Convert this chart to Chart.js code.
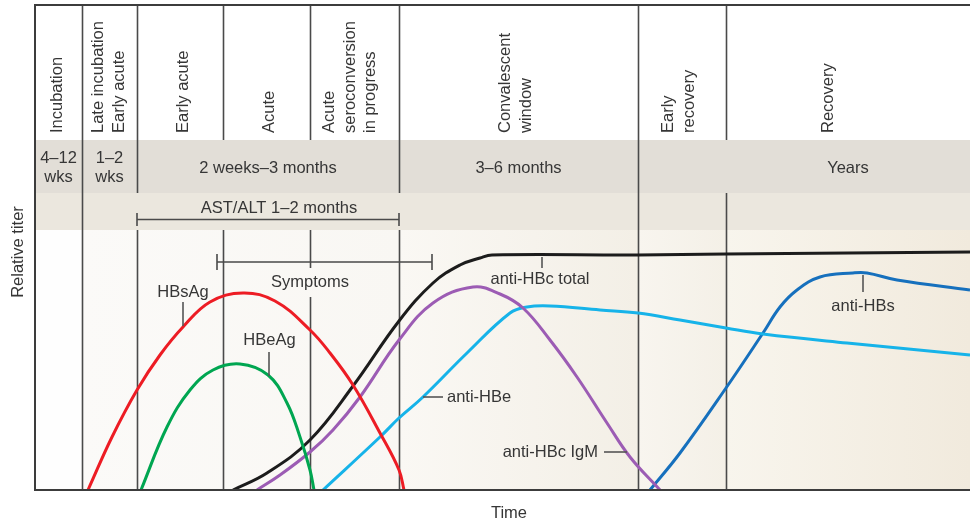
<!DOCTYPE html>
<html>
<head>
<meta charset="utf-8">
<style>
html,body{margin:0;padding:0;background:#ffffff;}
#wrap{width:970px;height:523px;position:relative;}
canvas{display:block;}
</style>
<script src="https://cdn.jsdelivr.net/npm/chart.js@4"></script>
</head>
<body>
<div id="wrap"><canvas id="c" width="970" height="523"></canvas></div>
<script>
// ---------------- DATA (time units along x, relative titer along y) ----------------
const phaseBoundaries = [47, 102, 188, 275, 364, 603, 691];
const phaseNames = [
  ['Incubation'],
  ['Late incubation', 'Early acute'],
  ['Early acute'],
  ['Acute'],
  ['Acute', 'seroconversion', 'in progress'],
  ['Convalescent', 'window'],
  ['Early', 'recovery'],
  ['Recovery']
];
const phaseNameAt = [22, 74, 148, 234, 315, 481, 644, 793];

const durationTexts = [['4–12', 'wks'], ['1–2', 'wks'], ['2 weeks–3 months'], ['3–6 months'], ['Years']];
const durationFrom = [0, 47, 102, 364, 691];
const durationTo = [47, 102, 364, 603, 935];

const astAltText = 'AST/ALT 1–2 months';
const astAltFrom = 102, astAltTo = 364, astAltTextAt = 244;
const symptomsText = 'Symptoms';
const symptomsFrom = 182, symptomsTo = 397, symptomsTextAt = 275;

const hbsagT = [53, 77, 102, 125, 148, 175, 208, 240, 275, 295, 318, 345, 364, 369];
const hbsagY = [0, 10.6, 20, 27, 32.6, 37.6, 39.4, 37.8, 32, 27.4, 21, 11.4, 4, 0];

const hbeagT = [106, 132, 155, 178, 205, 233, 252, 265, 275, 279];
const hbeagY = [0, 12.6, 20, 24, 25.2, 23, 17.4, 10.6, 4, 0];

const antiHBcTotalT = [198, 232, 275, 318, 364, 398, 425, 445, 457, 603, 691, 935];
const antiHBcTotalY = [0, 3.4, 10, 20.8, 33.8, 41.4, 45, 46.4, 47, 47, 47.2, 47.6];

const antiHBcIgMT = [222, 245, 275, 298, 325, 364, 398, 438, 465, 488, 515, 542, 572, 595, 625];
const antiHBcIgMY = [0, 3, 7.6, 12, 18.6, 30, 37.4, 40.6, 39.2, 36.4, 30, 22.6, 13.4, 6.6, 0];

const antiHBeT = [288, 345, 364, 388, 432, 475, 492, 515, 565, 603, 645, 691, 728, 812, 935];
const antiHBeY = [0, 10.6, 14.4, 18.6, 27.4, 35.4, 36.6, 36.8, 36, 35.4, 34, 32.4, 31.2, 29.4, 27];

const antiHBsT = [615, 645, 691, 728, 745, 762, 785, 818, 832, 862, 935];
const antiHBsY = [0, 7.4, 20.4, 31.4, 36.6, 40, 42.6, 43.4, 43.4, 42, 40];

const seriesNames = ['HBsAg', 'HBeAg', 'anti-HBc total', 'anti-HBc IgM', 'anti-HBe', 'anti-HBs'];

// ---------------- STYLE / LAYOUT ----------------
const FONT = '16.5px "Liberation Sans", Arial, Helvetica, sans-serif';
const TEXT = '#363636';
const LINE = '#4a4a4a';
const seriesColors = ['#ed1c24', '#00a651', '#1c1c1c', '#9c5cb4', '#16b3e9', '#1670bd'];
const ROWS = [[5, 140], [140, 193], [193, 230], [230, 490]];
const boundaryRows = [[0, 1, 2, 3], [0, 1, 3], [0, 3], [0, 3], [0, 1, 3], [0, 1, 2, 3], [0, 2, 3]];

// label placement: [seriesIndex, textT, textY, align, leader [t1,y1,t2,y2]]
const labelSpecs = [
  [0, 148, 39.6, 'center', [148, 37.6, 148, 32.8]],
  [1, 234.5, 30, 'center', [234, 27.6, 234, 22.8]],
  [2, 505, 42.2, 'center', [507, 46.6, 507, 44.4]],
  [3, 563, 7.6, 'right', [569, 7.6, 592, 7.6]],
  [4, 412, 18.6, 'left', [388, 18.6, 408, 18.6]],
  [5, 828, 36.8, 'center', [828, 43.0, 828, 39.6]]
];

function mk(t, y) { return t.map((v, i) => ({ x: v, y: y[i] })); }
const seriesData = [
  mk(hbsagT, hbsagY), mk(hbeagT, hbeagY), mk(antiHBcTotalT, antiHBcTotalY),
  mk(antiHBcIgMT, antiHBcIgMY), mk(antiHBeT, antiHBeY), mk(antiHBsT, antiHBsY)
];

const bgPlugin = {
  id: 'bg',
  beforeDraw(chart) {
    const c = chart.ctx, xs = chart.scales.x;
    const px = v => xs.getPixelForValue(v);
    c.save();
    c.fillStyle = '#ffffff';
    c.fillRect(0, 0, chart.width, chart.height);
    const L = px(0), R = px(935);
    c.fillStyle = '#e2ded7';
    c.fillRect(L, ROWS[1][0], R - L, ROWS[1][1] - ROWS[1][0]);
    c.fillStyle = '#ebe7de';
    c.fillRect(L, ROWS[2][0], R - L, ROWS[2][1] - ROWS[2][0]);
    const top = ROWS[3][0], bot = ROWS[3][1];
    const cols = [
      [0, 47, '#fefefe', '#fefefe'],
      [47, 364, '#fbfaf8', '#f9f7f3'],
      [364, 603, '#faf8f4', '#f3efe6'],
      [603, 691, '#f8f5ef', '#f4f0e7'],
      [691, 935, '#f8f5ed', '#f1eadd']
    ];
    cols.forEach(([a, b, c1, c2]) => {
      const x1 = px(a), x2 = px(b);
      const g = c.createLinearGradient(x1, 0, x2, 0);
      g.addColorStop(0, c1); g.addColorStop(1, c2);
      c.fillStyle = g;
      c.fillRect(x1, top, x2 - x1, bot - top);
    });
    c.restore();
  },
  beforeDatasetsDraw(chart) {
    const c = chart.ctx, xs = chart.scales.x, ys = chart.scales.y;
    const px = v => xs.getPixelForValue(v);
    c.save();
    c.strokeStyle = LINE;
    c.lineWidth = 1.6;
    const gapTop = ys.getPixelForValue(44.4), gapBot = ys.getPixelForValue(38.6);
    phaseBoundaries.forEach((b, i) => {
      const x = Math.round(px(b)) + 0.5;
      boundaryRows[i].forEach(r => {
        let segs = [[ROWS[r][0], ROWS[r][1]]];
        if (r === 3 && b === symptomsTextAt) segs = [[ROWS[r][0], gapTop], [gapBot, ROWS[r][1]]];
        segs.forEach(([y1, y2]) => {
          c.beginPath(); c.moveTo(x, y1); c.lineTo(x, y2); c.stroke();
        });
      });
    });
    c.lineWidth = 1.6;
    const bracket = (x1, x2, y, h) => {
      c.beginPath();
      c.moveTo(x1, y); c.lineTo(x2, y);
      c.moveTo(x1, y - h); c.lineTo(x1, y + h);
      c.moveTo(x2, y - h); c.lineTo(x2, y + h);
      c.stroke();
    };
    bracket(px(astAltFrom), px(astAltTo), 219.5, 6.5);
    bracket(px(symptomsFrom), px(symptomsTo), ys.getPixelForValue(45.6), 8);
    c.restore();
  },
  afterDatasetsDraw(chart) {
    const c = chart.ctx, xs = chart.scales.x, ys = chart.scales.y;
    const px = v => xs.getPixelForValue(v);
    const py = v => ys.getPixelForValue(v);
    c.save();
    c.strokeStyle = '#3c3c3c';
    c.lineWidth = 2;
    c.beginPath();
    c.moveTo(px(0), 5); c.lineTo(px(935), 5);
    c.stroke();
    c.beginPath();
    c.moveTo(px(0), 4); c.lineTo(px(0), py(0));
    c.lineTo(px(935), py(0));
    c.stroke();

    c.fillStyle = TEXT;
    c.font = FONT;
    phaseNames.forEach((lines, i) => {
      c.save();
      c.translate(px(phaseNameAt[i]), 133);
      c.rotate(-Math.PI / 2);
      c.textAlign = 'left';
      c.textBaseline = 'middle';
      lines.forEach((ln, j) => c.fillText(ln, 0, (j - (lines.length - 1) / 2) * 20.5));
      c.restore();
    });
    c.textAlign = 'center';
    c.textBaseline = 'middle';
    durationTexts.forEach((lines, i) => {
      const x = (px(durationFrom[i]) + px(durationTo[i])) / 2;
      lines.forEach((ln, j) => c.fillText(ln, x, 168 + (j - (lines.length - 1) / 2) * 19));
    });
    c.fillText(astAltText, px(astAltTextAt), 208);
    c.fillText(symptomsText, px(symptomsTextAt), py(41.6));
    c.strokeStyle = '#555555';
    c.lineWidth = 1.6;
    labelSpecs.forEach(([si, t, y, align, ld]) => {
      c.textAlign = align;
      c.fillText(seriesNames[si], px(t), py(y));
      c.beginPath();
      c.moveTo(px(ld[0]), py(ld[1])); c.lineTo(px(ld[2]), py(ld[3]));
      c.stroke();
    });
    c.textAlign = 'center';
    c.fillText('Time', px(474), 513);
    c.save();
    c.translate(18, 252);
    c.rotate(-Math.PI / 2);
    c.fillText('Relative titer', 0, 0);
    c.restore();
    c.restore();
  }
};

new Chart(document.getElementById('c').getContext('2d'), {
  type: 'line',
  data: {
    datasets: seriesData.map((d, i) => ({
      label: seriesNames[i],
      data: d,
      borderColor: seriesColors[i],
      backgroundColor: seriesColors[i],
      borderWidth: 3,
      pointRadius: 0,
      fill: false,
      tension: 0.4
    }))
  },
  options: {
    responsive: false,
    animation: false,
    devicePixelRatio: 1,
    layout: { padding: { left: 35, top: 230, right: 0, bottom: 33 } },
    plugins: { legend: { display: false }, tooltip: { enabled: false } },
    scales: {
      x: { type: 'linear', min: 0, max: 935, display: false },
      y: { type: 'linear', min: 0, max: 52, display: false }
    }
  },
  plugins: [bgPlugin]
});
</script>
</body>
</html>
